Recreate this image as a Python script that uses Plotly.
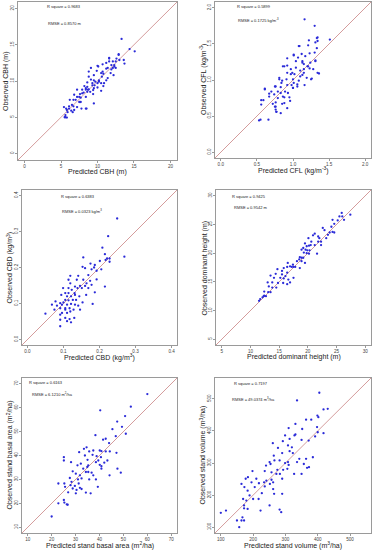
import plotly.graph_objects as go

W, H = 376, 550

# ---------------- data ----------------
cbh_pred = [13.3,14.4,15.1,12.9,13.0,12.5,11.6,11.6,11.9,12.1,12.2,11.4,10.7,10.0,9.9,10.5,10.8,11.2,10.8,10.2,
            9.5,9.1,8.8,8.6,9.3,9.6,10.0,9.4,10.5,8.2,7.9,8.4,8.7,8.1,7.6,7.2,6.8,7.7,8.4,9.4,
            9.5,7.5,6.7,6.2,6.1,6.7,7.2,7.8,8.5,5.7,5.4,5.9,6.4,6.6,5.6,5.8,5.5,8.8,9.1,9.5,
            8.6,10.5,7.2,11.9,11.2,12.5,12.3,13.6,13.7,
            8.4,8.8,9.3,9.7,10.0,10.2,10.6,10.7,10.1,11.2,11.6,12.1,12.6,12.9,12.3,11.8,11.4,10.9,9.5,8.6,
            7.9,7.5,7.0,6.5,6.1,5.8,5.6,6.8,8.4,7.7,9.0]
cbh_obs = [15.8,14.4,14.1,13.7,12.9,12.7,13.2,12.7,12.2,11.8,10.8,11.8,12.3,12.1,11.4,11.1,11.0,10.1,9.3,9.9,
           10.1,10.2,10.6,9.8,9.4,9.4,9.1,8.75,8.65,9.3,8.8,8.8,8.8,8.4,8.2,7.8,8.1,7.7,7.8,8.2,
           6.9,7.1,7.4,7.4,6.5,6.5,6.4,6.2,6.2,6.2,6.4,5.7,5.9,5.7,5.3,4.95,5.0,11.3,11.8,10.8,
           9.2,9.7,8.8,11.6,11.7,11.8,12.2,12.9,12.4,
           9.0,8.85,9.7,9.9,9.7,10.1,10.6,11.3,12.0,12.5,13.1,12.7,13.1,13.6,12.0,11.1,10.4,9.7,9.0,8.5,
           8.3,7.8,7.4,6.7,6.2,6.0,5.0,6.0,6.2,7.1,8.5]

cfl_pred = [1.16,1.30,1.51,1.33,1.31,1.22,1.08,1.33,1.01,1.12,1.17,1.23,1.30,1.31,1.13,1.04,0.92,0.88,1.15,1.20,
            1.23,1.28,1.04,0.97,1.10,0.92,0.99,1.13,1.34,1.26,1.19,0.81,0.85,0.91,1.00,1.08,1.16,1.06,0.98,0.92,
            0.83,0.76,0.67,0.74,0.61,0.83,0.89,1.00,0.95,0.88,0.79,0.76,0.72,0.85,0.56,0.56,0.75,0.76,0.92,0.77,
            0.66,0.53,0.83,0.96,1.01,1.10,1.24,1.15,
            1.34,1.34,1.09,1.21,1.01,1.07,0.86,0.92,1.13,1.21,1.31,1.36,1.25,1.15,1.02,0.97,0.81,0.84,0.75,0.70,
            0.79,0.93,0.86,1.06,1.00,0.88,0.61,0.67,0.59,0.76,0.77,0.55]
cfl_obs = [1.84,1.75,1.56,1.58,1.52,1.55,1.47,1.44,1.35,1.36,1.33,1.37,1.38,1.27,1.26,1.26,1.30,1.19,1.22,1.19,
           1.16,1.15,1.17,1.15,1.13,1.10,1.10,1.07,1.10,1.02,1.03,1.03,0.99,1.01,1.01,0.99,0.93,0.91,0.93,0.93,
           0.90,0.91,0.81,0.80,0.88,0.82,0.84,0.89,0.76,0.76,0.75,0.69,0.67,0.67,0.72,0.66,0.63,0.59,0.61,0.56,
           0.45,0.44,0.54,0.71,0.96,1.05,1.24,1.15,
           1.59,1.54,1.47,1.48,1.34,1.31,1.19,1.20,1.24,1.19,1.26,1.09,1.01,1.10,1.08,1.08,1.01,0.96,0.91,0.84,
           0.84,0.82,0.77,0.94,0.89,0.68,0.87,0.77,0.72,0.63,0.56,0.45]

cbd_pred = [0.249,0.224,0.269,0.208,0.215,0.228,0.221,0.217,0.228,0.155,0.175,0.187,0.201,0.160,0.178,0.192,0.185,0.205,0.153,0.119,
            0.141,0.169,0.192,0.155,0.174,0.178,0.215,0.160,0.169,0.146,0.132,0.139,0.151,0.119,0.114,0.099,0.123,0.131,0.114,0.110,
            0.121,0.094,0.144,0.163,0.187,0.135,0.126,0.114,0.105,0.100,0.078,0.091,0.153,0.181,0.068,0.082,0.096,0.110,0.121,0.132,
            0.141,0.117,0.105,0.091,0.075,0.128,0.146,0.096,0.110,0.119,0.050,0.091,0.105,0.117,0.110,0.121,0.091,0.130,0.091,
            0.105,0.137,0.114,0.164,0.105,0.132]
cbd_obs = [0.336,0.287,0.230,0.255,0.237,0.225,0.225,0.221,0.216,0.228,0.211,0.207,0.218,0.198,0.195,0.191,0.200,0.195,0.202,0.177,
           0.177,0.179,0.167,0.166,0.163,0.152,0.147,0.149,0.143,0.149,0.147,0.143,0.143,0.156,0.143,0.143,0.138,0.129,0.129,0.120,
           0.120,0.124,0.120,0.124,0.131,0.110,0.110,0.109,0.110,0.103,0.106,0.101,0.103,0.099,0.097,0.094,0.097,0.097,0.099,0.097,
           0.094,0.087,0.083,0.087,0.083,0.083,0.083,0.074,0.074,0.078,0.072,0.069,0.060,0.057,0.051,0.048,0.037,0.060,0.055,
           0.129,0.166,0.166,0.156,0.087,0.124]

hd_pred = [27.4,25.9,26.0,25.5,26.3,24.3,24.1,22.6,23.8,24.3,24.6,23.5,23.2,21.2,21.8,22.0,20.1,20.6,21.8,22.3,
           22.3,19.5,19.8,20.2,20.5,21.2,18.9,19.2,19.6,19.9,20.3,19.3,19.8,20.2,21.6,18.6,18.9,19.2,18.5,18.9,
           19.5,17.4,16.9,17.2,17.5,16.5,16.4,15.8,17.8,18.6,14.7,15.5,14.4,15.5,16.4,16.1,13.5,14.1,15.2,15.8,
           17.5,16.6,14.8,15.7,16.4,16.9,13.8,13.0,13.2,13.8,14.5,12.4,13.1,12.4,12.1,12.7,11.7,11.5,12.3,13.5,
           18.1,20.9,25.2,24.6,22.9]
hd_obs = [26.7,27.0,26.4,26.4,25.8,25.8,24.6,24.4,23.6,23.7,23.6,23.2,22.6,23.4,22.9,22.6,22.6,22.0,22.0,22.0,
          21.4,21.7,21.2,21.3,21.4,21.4,20.6,20.9,20.6,20.5,20.5,20.1,20.0,19.9,19.9,19.3,19.2,19.2,18.9,18.6,
          18.3,18.0,17.7,17.6,17.6,18.3,17.6,17.4,17.6,17.4,17.2,16.9,16.4,16.3,16.6,16.0,16.1,15.7,15.7,15.6,
          15.7,15.4,14.8,14.8,14.6,14.9,14.9,14.9,14.2,14.0,14.0,13.3,13.2,12.6,12.3,12.5,12.0,11.7,12.5,13.2,
          18.6,23.1,25.7,25.1,24.0]

ba_pred = [60.0,53.1,40.3,50.7,47.4,49.4,45.4,51.0,46.8,42.6,41.5,38.3,44.0,34.6,33.5,31.5,35.7,37.4,40.1,40.8,
           42.6,44.3,47.1,37.1,38.8,40.6,33.9,39.5,38.5,42.0,43.3,35.0,32.2,25.1,25.1,28.1,30.8,40.1,40.8,34.9,
           35.3,34.3,36.7,40.8,47.5,48.9,44.2,28.8,30.1,27.6,31.0,32.5,35.7,38.5,31.3,28.3,27.9,29.7,31.8,32.5,
           30.4,39.3,22.8,25.3,25.6,28.8,26.9,30.1,34.3,36.3,25.1,25.3,26.3,26.7,22.8,20.0,35.3,37.4,33.2,31.8]
ba_obs = [65.7,60.4,58.9,56.5,54.2,52.0,51.0,49.1,48.1,47.0,46.6,48.5,45.2,43.4,42.8,41.4,41.7,42.1,42.1,41.8,
          41.7,41.7,41.1,40.3,39.7,39.3,40.0,37.9,37.2,37.0,37.9,38.2,36.6,39.3,37.9,37.2,35.9,36.1,35.5,35.2,
          33.1,33.1,32.8,34.5,34.5,32.8,31.7,33.4,32.4,30.6,30.0,30.4,30.0,30.0,28.3,29.0,27.6,27.3,26.5,26.0,
          25.6,26.9,28.3,28.3,26.9,26.2,24.6,24.2,24.5,24.2,21.4,20.3,19.6,19.4,20.0,14.5,35.9,31.7,34.5,31.7]

vol_pred = [405,336,431,418,399,402,364,380,331,310,352,398,400,418,331,299,328,372,350,392,
            261,292,313,308,320,277,313,323,264,290,251,266,240,254,282,299,308,310,336,343,
            364,385,357,367,373,306,293,275,257,236,272,283,327,350,198,290,257,241,234,195,
            177,184,210,218,252,262,164,173,183,205,236,262,265,290,227,189,169,179,200,217,
            172,172,183,223,251,282,167,172,164,150,157,100,116,287]
vol_obs = [519,495,469,467,448,443,435,435,422,409,406,412,396,393,389,386,386,370,372,383,
           362,368,375,355,349,347,337,331,323,331,303,308,292,297,308,300,303,294,303,313,
           313,318,297,285,287,282,279,279,271,275,266,266,266,266,275,251,248,245,240,240,
           251,256,251,237,235,240,235,225,214,225,227,219,204,204,206,199,188,183,188,188,
           168,159,157,152,168,155,131,121,121,121,100,145,152,147]

panels = [
    dict(pred=cbh_pred, obs=cbh_obs, rng=[-0.9, 20.9], ticks=[0, 5, 10, 15, 20], fmt="{:g}",
         xt="Predicted CBH (m)", yt="Observed CBH (m)",
         r2="R square = 0.9683", rmse="RMSE = 0.8570 m",
         box=(18, 2, 177, 160), r2pos=(64, 7), rmsepos=(64, 23)),
    dict(pred=cfl_pred, obs=cfl_obs, rng=[-0.08, 2.08], ticks=[0, 0.5, 1.0, 1.5, 2.0], fmt="{:.1f}",
         xt="Predicted CFL (kg/m<sup>-3</sup>)", yt="Observed CFL (kg/m<sup>-3</sup>)",
         r2="R square = 0.5899", rmse="RMSE = 0.1725 kg/m<sup>-3</sup>",
         box=(215, 2, 371, 158), r2pos=(254, 7), rmsepos=(258, 20)),
    dict(pred=cbd_pred, obs=cbd_obs, rng=[-0.015, 0.415], ticks=[0, 0.1, 0.2, 0.3, 0.4], fmt="{:.1f}",
         xt="Predicted CBD (kg/m<sup>3</sup>)", yt="Observed CBD (kg/m<sup>3</sup>)",
         r2="R square = 0.6383", rmse="RMSE = 0.0323 kg/m<sup>3</sup>",
         box=(22, 190, 177, 345), r2pos=(78, 196), rmsepos=(82, 211)),
    dict(pred=hd_pred, obs=hd_obs, rng=[4.0, 31.0], ticks=[5, 10, 15, 20, 25, 30], fmt="{:g}",
         xt="Predicted dominant height (m)", yt="Observed dominant height (m)",
         r2="R square = 0.9425", rmse="RMSE = 0.9542 m",
         box=(216, 190, 371, 345), r2pos=(249, 196), rmsepos=(250, 207)),
    dict(pred=ba_pred, obs=ba_obs, rng=[7.6, 72.4], ticks=[10, 20, 30, 40, 50, 60, 70], fmt="{:g}",
         xt="Predicted stand basal area (m<sup>2</sup>/ha)", yt="Observed stand basal area (m<sup>2</sup>/ha)",
         r2="R square = 0.6163", rmse="RMSE = 6.1210 m<sup>2</sup>/ha",
         box=(22, 378, 177, 533), r2pos=(46, 382), rmsepos=(52, 394)),
    dict(pred=vol_pred, obs=vol_obs, rng=[82, 565], ticks=[100, 200, 300, 400, 500], fmt="{:g}",
         xt="Predicted stand volume (m<sup>3</sup>/ha)", yt="Observed stand volume (m<sup>3</sup>/ha)",
         r2="R square = 0.7197", rmse="RMSE = 49.0374 m<sup>3</sup>/ha",
         box=(215, 378, 371, 533), r2pos=(251, 383), rmsepos=(253, 399)),
]

FONT = "Liberation Sans, Arial, sans-serif"
fig = go.Figure()
layout = {}
annotations = []
shapes = []

def fx(px):
    return px / W

def fy(py):
    return 1 - py / H

for i, p in enumerate(panels):
    n = i + 1
    xa = "xaxis" if n == 1 else f"xaxis{n}"
    ya = "yaxis" if n == 1 else f"yaxis{n}"
    xr = "x" if n == 1 else f"x{n}"
    yr = "y" if n == 1 else f"y{n}"
    x0, y0, x1, y1 = p["box"]
    fig.add_trace(go.Scatter(x=p["pred"], y=p["obs"], mode="markers", xaxis=xr, yaxis=yr,
                             marker=dict(size=2.3, color="#2a2ad8", line=dict(width=0)),
                             showlegend=False, hoverinfo="x+y"))
    lo, hi = p["rng"]
    shapes.append(dict(type="line", xref=xr, yref=yr, x0=lo, y0=lo, x1=hi, y1=hi,
                       line=dict(color="#d49c9c", width=1), layer="below"))
    common = dict(range=p["rng"], tickvals=p["ticks"], ticktext=[p["fmt"].format(t) for t in p["ticks"]],
                  showgrid=False, zeroline=False, showline=True, mirror=True, linecolor="#9a9a9a",
                  linewidth=1, ticks="outside", ticklen=2, tickwidth=1, tickcolor="#9a9a9a",
                  ticklabelstandoff=-1,
                  tickfont=dict(size=4.6, color="#444", family=FONT), fixedrange=True)
    layout[xa] = dict(domain=[fx(x0), fx(x1)], anchor=yr, **common)
    layout[ya] = dict(domain=[fy(y1), fy(y0)], anchor=xr, tickangle=-90, **common)
    cx = (x0 + x1) / 2
    cy = (y0 + y1) / 2
    annotations.append(dict(text=p["xt"], x=fx(cx), y=fy(y1 + 12), xref="paper", yref="paper",
                            showarrow=False, xanchor="center", yanchor="middle",
                            font=dict(size=7, color="#222", family=FONT)))
    annotations.append(dict(text=p["yt"], x=fx(x0 - 12), y=fy(cy), xref="paper", yref="paper",
                            showarrow=False, xanchor="center", yanchor="middle", textangle=-90,
                            font=dict(size=7, color="#222", family=FONT)))
    annotations.append(dict(text=p["r2"], x=fx(p["r2pos"][0]), y=fy(p["r2pos"][1]), xref="paper", yref="paper",
                            showarrow=False, xanchor="center", yanchor="middle",
                            font=dict(size=4, color="#222", family=FONT)))
    annotations.append(dict(text=p["rmse"], x=fx(p["rmsepos"][0]), y=fy(p["rmsepos"][1]), xref="paper", yref="paper",
                            showarrow=False, xanchor="center", yanchor="middle",
                            font=dict(size=4, color="#222", family=FONT)))

fig.update_layout(width=W, height=H, margin=dict(l=0, r=0, t=0, b=0),
                  paper_bgcolor="white", plot_bgcolor="white",
                  annotations=annotations, shapes=shapes, **layout)
fig.write_html("out.html", config={"displayModeBar": False},
               post_script="document.body.style.margin='0';document.body.style.padding='0';"
                           "document.body.style.overflow='hidden';"
                           "document.documentElement.style.overflow='hidden';")
